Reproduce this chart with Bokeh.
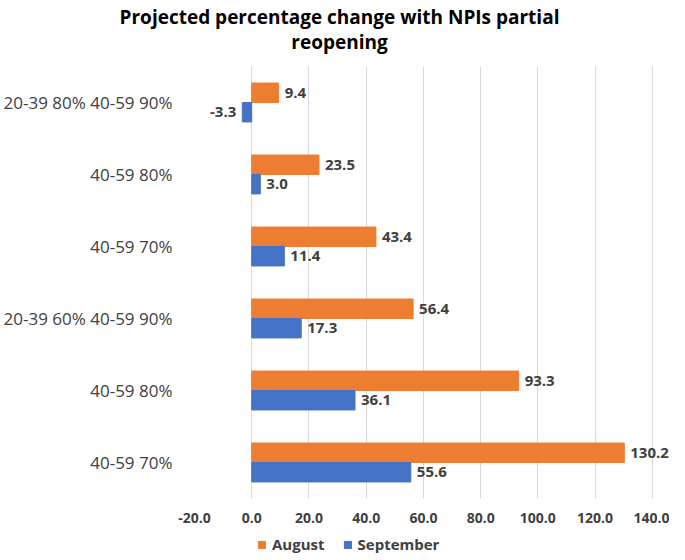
from bokeh.plotting import figure
from bokeh.models import (ColumnDataSource, FixedTicker, NumeralTickFormatter, Div,
                          Legend, LegendItem, Range1d, LabelSet)
from bokeh.core.properties import value
from bokeh.layouts import column
from bokeh.embed import file_html
from bokeh.resources import INLINE

# Data (bottom to top)
categories = ["40-59 70%", "40-59 80%", "20-39 60% 40-59 90%",
              "40-59 70%", "40-59 80%", "20-39 80% 40-59 90%"]
august = [130.2, 93.3, 56.4, 43.4, 23.5, 9.4]
september = [55.6, 36.1, 17.3, 11.4, 3.0, -3.3]
x_ticks = [-20, 0, 20, 40, 60, 80, 100, 120, 140]

ORANGE = "#ED7D31"
BLUE = "#4472C4"
FONT = "Open Sans"

idx = list(range(len(categories)))
bar_h = 0.27


def make_src(vals, shift):
    return ColumnDataSource(dict(
        y=[i + shift for i in idx], v=vals,
        lbl=[f"{v:.1f}" for v in vals],
        align=["left" if v >= 0 else "right" for v in vals],
        off=[6 if v >= 0 else -6 for v in vals]))


src_a = make_src(august, bar_h / 2)
src_s = make_src(september, -bar_h / 2)

p = figure(width=669, height=469, output_backend="svg", toolbar_location=None,
           x_range=Range1d(-20, 146), y_range=Range1d(-0.5, len(categories) - 0.5),
           min_border_left=190, min_border_right=0, min_border_top=1,
           min_border_bottom=36)
p.outline_line_color = None

ra = p.hbar(y="y", right="v", left=0, height=bar_h, source=src_a,
            fill_color=ORANGE, line_color=ORANGE)
rs = p.hbar(y="y", right="v", left=0, height=bar_h, source=src_s,
            fill_color=BLUE, line_color=BLUE)

for src in (src_a, src_s):
    p.add_layout(LabelSet(x="v", y="y", text="lbl", source=src,
                          text_align="align", x_offset="off",
                          text_baseline="middle", text_font=value(FONT),
                          text_font_style="bold", text_font_size="15px",
                          text_color="#404040"))

# axes
p.xaxis.ticker = FixedTicker(ticks=x_ticks)
p.xaxis.formatter = NumeralTickFormatter(format="0.0")
p.xaxis.major_label_text_font = FONT
p.xaxis.major_label_text_font_style = "bold"
p.xaxis.major_label_text_font_size = "14px"
p.xaxis.major_label_text_color = "#404040"
p.xaxis.axis_line_color = None
p.xaxis.major_tick_line_color = None
p.xaxis.minor_tick_line_color = None
p.xaxis.major_label_standoff = 8

p.yaxis.ticker = FixedTicker(ticks=idx)
p.yaxis.major_label_overrides = {i: c for i, c in zip(idx, categories)}
p.yaxis.major_label_text_font = FONT
p.yaxis.major_label_text_font_size = "17px"
p.yaxis.major_label_text_color = "#404040"
p.yaxis.axis_line_color = None
p.yaxis.major_tick_line_color = None
p.yaxis.minor_tick_line_color = None
p.yaxis.major_label_standoff = 16

p.xgrid.grid_line_color = "#D9D9D9"
p.ygrid.grid_line_color = None

# legend in a small strip below the chart (same series, view range shows no bars)
lg = figure(width=669, height=20, output_backend="svg", toolbar_location=None,
            x_range=Range1d(0, 1), y_range=Range1d(100, 101),
            x_axis_type=None, y_axis_type=None,
            min_border_left=187, min_border_right=0, min_border_top=0,
            min_border_bottom=0)
lg.outline_line_color = None
lg.grid.visible = False
la = lg.hbar(y="y", right="v", left=0, height=bar_h, source=src_a,
             fill_color=ORANGE, line_color=ORANGE)
ls = lg.hbar(y="y", right="v", left=0, height=bar_h, source=src_s,
             fill_color=BLUE, line_color=BLUE)
legend = Legend(items=[LegendItem(label="August", renderers=[la]),
                       LegendItem(label="September", renderers=[ls])],
                orientation="horizontal", location=(63, 0),
                label_text_font=FONT, label_text_font_style="bold",
                label_text_font_size="15px", label_text_color="#404040",
                glyph_width=9, glyph_height=9, label_standoff=6, spacing=18,
                padding=0, margin=0, border_line_color=None,
                background_fill_alpha=0, label_height=20)
lg.add_layout(legend, "center")

title = Div(text="Projected percentage change with NPIs partial<br>reopening",
            width=669, height=55,
            styles={"text-align": "center", "font-family": FONT,
                    "font-weight": "bold", "font-size": "19px",
                    "line-height": "25px", "color": "#000000",
                    "width": "669px"})

layout = column(title, p, lg, spacing=0)
open("out.html", "w").write(file_html(layout, INLINE))
